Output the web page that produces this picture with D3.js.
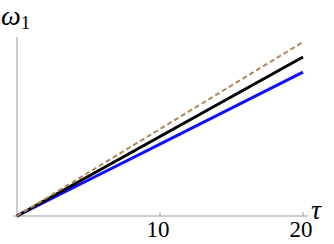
<!DOCTYPE html>
<html>
<head>
<meta charset="utf-8">
<script src="https://cdn.jsdelivr.net/npm/d3@7"></script>
<style>
  body { margin: 0; background: #fff; }
  svg { display: block; }
</style>
</head>
<body>
<script>
  // tau samples and omega_1 curves (arbitrary y units)
  let tau = [0, 5, 10, 15, 20]
  let dashedVals = [0, 2.43, 4.86, 7.29, 9.72]
  let blackVals = [0, 2.22, 4.44, 6.66, 8.88]
  let blueVals = [0, 2.01, 4.02, 6.03, 8.04]
  let xTicks = [10, 20]

  let width = 334
  let height = 244
  let serif = "'Liberation Serif', 'DejaVu Serif', serif"

  let svg = d3.select('body').append('svg')
    .attr('width', width)
    .attr('height', height)

  let xScale = d3.scaleLinear().domain([0, 20]).range([17, 303])
  let yScale = d3.scaleLinear().domain([0, 10]).range([216, 37])

  // axes
  let axisColor = '#999'
  svg.append('line')
    .attr('x1', xScale(0)).attr('x2', xScale(0))
    .attr('y1', yScale(10)).attr('y2', yScale(0) + 2)
    .style('stroke', axisColor).style('stroke-width', 1)
  svg.append('line')
    .attr('x1', xScale(0) - 4).attr('x2', xScale(20) + 5)
    .attr('y1', yScale(0)).attr('y2', yScale(0))
    .style('stroke', axisColor).style('stroke-width', 1)

  xTicks.forEach(t => {
    svg.append('line')
      .attr('x1', xScale(t)).attr('x2', xScale(t))
      .attr('y1', yScale(0)).attr('y2', yScale(0) - 4)
      .style('stroke', axisColor).style('stroke-width', 1)
    svg.append('text')
      .attr('x', xScale(t) - 2)
      .attr('y', 237)
      .attr('text-anchor', 'middle')
      .attr('font-family', serif)
      .attr('font-size', 23)
      .text(t)
  })

  let line = d3.line()
    .x((d, i) => xScale(tau[i]))
    .y(d => yScale(d))

  svg.append('path')
    .attr('d', line(blueVals))
    .style('fill', 'none').style('stroke', '#0f0fff').style('stroke-width', 3)
  svg.append('path')
    .attr('d', line(blackVals))
    .style('fill', 'none').style('stroke', '#000').style('stroke-width', 3)
  svg.append('path')
    .attr('d', line(dashedVals))
    .style('fill', 'none').style('stroke', '#b5855a').style('stroke-width', 2)
    .style('stroke-dasharray', '5,3')

  // axis labels
  svg.append('text')
    .attr('x', 311).attr('y', 219)
    .attr('font-family', serif)
    .attr('font-style', 'italic')
    .attr('font-size', 28)
    .text('τ')

  let yLabel = svg.append('text')
    .attr('x', 1).attr('y', 25)
    .attr('font-family', serif)
    .attr('font-size', 28)
  yLabel.append('tspan').attr('font-style', 'italic').text('ω')
  yLabel.append('tspan').attr('dy', 4).attr('font-size', 19).text('1')
</script>
</body>
</html>
